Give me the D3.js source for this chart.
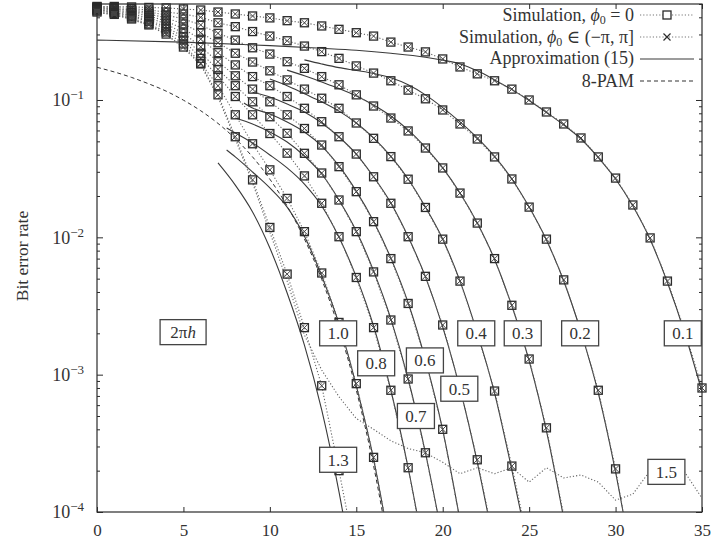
<!DOCTYPE html>
<html>
<head>
<meta charset="utf-8">
<script src="https://cdn.jsdelivr.net/npm/d3@7"></script>
<style>
body { margin: 0; background: #fff; }
text { font-family: "Liberation Serif", "DejaVu Serif", serif; fill: #333; }
</style>
</head>
<body>
<div id="app"></div>
<script>
const width = 712,
    height = 541;

// Eb/N0 grid of the simulations (dB)
const snr = d3.range(0, 36);

// simulated BER, one list per 2*pi*h, starting at 0 dB
const sim01 = [0.48, 0.48, 0.476, 0.472, 0.468, 0.46, 0.452, 0.437, 0.423, 0.409, 0.396, 0.378, 0.365, 0.346, 0.327, 0.309, 0.292, 0.264, 0.243, 0.224, 0.199, 0.174, 0.155, 0.138, 0.12, 0.1, 0.0818, 0.0669, 0.0529, 0.0385, 0.027, 0.0172, 0.0099, 0.0048, 0.0021, 0.0008];
const sim02 = [0.476, 0.472, 0.464, 0.452, 0.437, 0.423, 0.4, 0.365, 0.342, 0.315, 0.292, 0.27, 0.247, 0.225, 0.201, 0.177, 0.157, 0.138, 0.118, 0.102, 0.0846, 0.0669, 0.052, 0.0385, 0.0266, 0.0166, 0.0097, 0.0049, 0.0021, 0.00077, 0.000206, 0.000039];
const sim03 = [0.472, 0.464, 0.452, 0.437, 0.416, 0.389, 0.352, 0.306, 0.273, 0.24, 0.216, 0.19, 0.17, 0.148, 0.129, 0.109, 0.0904, 0.0739, 0.0595, 0.0447, 0.032, 0.021, 0.0127, 0.007, 0.0032, 0.0013, 0.00041, 0.000095];
const sim04 = [0.468, 0.46, 0.445, 0.423, 0.396, 0.358, 0.309, 0.261, 0.219, 0.189, 0.163, 0.14, 0.12, 0.103, 0.087, 0.068, 0.0526, 0.0387, 0.0265, 0.0165, 0.0097, 0.0048, 0.002, 0.00076, 0.000216, 0.000055];
const sim05 = [0.464, 0.452, 0.434, 0.409, 0.376, 0.329, 0.277, 0.221, 0.18, 0.148, 0.127, 0.106, 0.087, 0.0695, 0.054, 0.0404, 0.0276, 0.0177, 0.0101, 0.0052, 0.0023, 0.0008, 0.00024, 0.000058];
const sim06 = [0.46, 0.445, 0.423, 0.396, 0.358, 0.307, 0.244, 0.19, 0.15, 0.12, 0.097, 0.078, 0.062, 0.047, 0.0327, 0.0215, 0.013, 0.007, 0.0033, 0.00128, 0.0004, 0.000087];
const sim07 = [0.456, 0.437, 0.412, 0.383, 0.34, 0.288, 0.219, 0.167, 0.127, 0.097, 0.0755, 0.0572, 0.0409, 0.0294, 0.0187, 0.011, 0.0056, 0.0025, 0.00093, 0.00027, 0.000063];
const sim08 = [0.452, 0.434, 0.406, 0.373, 0.329, 0.273, 0.201, 0.15, 0.106, 0.078, 0.057, 0.041, 0.028, 0.0177, 0.0101, 0.0051, 0.0022, 0.00077, 0.00021, 0.000045];
const sim10 = [0.445, 0.427, 0.396, 0.358, 0.313, 0.256, 0.185, 0.127, 0.078, 0.048, 0.031, 0.0192, 0.011, 0.0055, 0.0024, 0.00086, 0.00025, 0.000053];
const sim13 = [0.437, 0.42, 0.389, 0.352, 0.302, 0.243, 0.183, 0.109, 0.054, 0.0262, 0.0118, 0.0054, 0.0022, 0.00083, 0.0002, 0.000045];
// 2*pi*h = 1.5 runs into an error floor
const sim15 = [0.434, 0.416, 0.386, 0.349, 0.3, 0.239, 0.18, 0.105, 0.052, 0.0249, 0.0109, 0.0048, 0.00194, 0.00108, 0.00069, 0.00048, 0.0004, 0.00033, 0.00029, 0.00027, 0.00023, 0.00019, 0.00021, 0.00019, 0.00021, 0.000165, 0.00021, 0.000177, 0.000186, 0.000165, 0.000122, 0.000135, 0.0002, 0.00023, 0.000195, 0.000126];

// approximation (15): [Eb/N0, BER]
const approx01 = [[0, 0.273], [5, 0.264], [10, 0.249], [13, 0.238], [15, 0.23], [17, 0.219], [19, 0.205], [20, 0.195], [21, 0.183], [22, 0.163], [23, 0.14], [24, 0.119], [25, 0.0992], [26, 0.0811], [27, 0.0658], [28, 0.052], [29, 0.0381], [30, 0.0266], [31, 0.0169], [32, 0.00964], [33, 0.00469], [34, 0.00201], [35, 0.000747]];
const approx02 = [[12, 0.196], [13, 0.183], [14, 0.172], [15, 0.164], [16, 0.156], [17, 0.145], [18, 0.129], [19, 0.109], [20, 0.088], [21, 0.0692], [22, 0.0529], [23, 0.0388], [24, 0.0266], [25, 0.0166], [26, 0.00956], [27, 0.00481], [28, 0.00204], [29, 0.000735], [30, 0.000195], [31, 0.00004]];
const approx03 = [[11, 0.165], [12, 0.15], [13, 0.135], [14, 0.121], [15, 0.107], [16, 0.092], [17, 0.0765], [18, 0.0605], [19, 0.0451], [20, 0.032], [21, 0.021], [22, 0.0127], [23, 0.0069], [24, 0.00316], [25, 0.00126], [26, 0.000389], [27, 0.00009]];
const approx04 = [[10, 0.142], [11, 0.127], [12, 0.111], [13, 0.097], [14, 0.083], [15, 0.068], [16, 0.0529], [17, 0.0388], [18, 0.0266], [19, 0.0166], [20, 0.0097], [21, 0.0048], [22, 0.00201], [23, 0.000735], [24, 0.000202], [25, 0.000051]];
const approx05 = [[9, 0.114], [10, 0.105], [11, 0.0935], [12, 0.0818], [13, 0.068], [14, 0.0538], [15, 0.0404], [16, 0.0276], [17, 0.0178], [18, 0.0101], [19, 0.00515], [20, 0.00222], [21, 0.00079], [22, 0.00023], [23, 0.000055]];
const approx06 = [[8.5, 0.0951], [9, 0.0874], [10, 0.0791], [11, 0.0692], [12, 0.0585], [13, 0.0462], [14, 0.0331], [15, 0.0217], [16, 0.0131], [17, 0.00706], [18, 0.00334], [19, 0.00128], [20, 0.000395], [21, 0.000087]];
const approx07 = [[8, 0.0739], [9, 0.0669], [10, 0.0585], [11, 0.0494], [12, 0.0391], [13, 0.0289], [14, 0.0187], [15, 0.0111], [16, 0.0057], [17, 0.00255], [18, 0.00093], [19, 0.00027], [20, 0.000063]];
const approx08 = [[7.5, 0.0625], [8, 0.0575], [9, 0.0486], [10, 0.0398], [11, 0.032], [12, 0.0244], [13, 0.0169], [14, 0.01], [15, 0.00515], [16, 0.00226], [17, 0.00077], [18, 0.00021], [19, 0.000045]];
const approx10 = [[7.5, 0.0432], [8, 0.0385], [9, 0.0299], [10, 0.0229], [11, 0.0166], [12, 0.0102], [13, 0.00523], [14, 0.00234], [15, 0.00083], [16, 0.000243], [17, 0.000051]];
const approx13 = [[7, 0.0348], [8, 0.024], [9, 0.0153], [10, 0.00836], [11, 0.00393], [12, 0.00164], [13, 0.000553], [14, 0.00014], [15, 0.000027]];

// 8-PAM reference, from 0 dB
const pam8 = [0.173, 0.16, 0.146, 0.131, 0.116, 0.0997, 0.0835, 0.0675, 0.0523, 0.0385, 0.0265, 0.0169, 0.00972, 0.00495, 0.00215, 0.000772, 0.000217, 0.000045];

// curve labels (2*pi*h)
const labelText = ["0.1", "0.2", "0.3", "0.4", "0.5", "0.6", "0.7", "0.8", "1.0", "1.3", "1.5"];
const labelSnr = [33.89, 27.95, 24.63, 21.94, 20.96, 18.97, 18.45, 16.15, 13.95, 13.95, 32.94];
const labelBer = [2.0e-3, 2.0e-3, 2.0e-3, 2.0e-3, 7.9e-4, 1.27e-3, 5.0e-4, 1.21e-3, 2.0e-3, 2.4e-4, 1.96e-4];

const xTicks = [0, 5, 10, 15, 20, 25, 30, 35];
const yTicks = [1e-4, 1e-3, 1e-2, 1e-1];
const yTickExp = ["−4", "−3", "−2", "−1"];

const simCurves = [sim01, sim02, sim03, sim04, sim05, sim06, sim07, sim08, sim10, sim13];
const approxCurves = [approx01, approx02, approx03, approx04, approx05, approx06, approx07, approx08, approx10, approx13];

var x = d3.scaleLinear().domain([0, 35]).range([97, 702]);
var y = d3.scaleLog().domain([1e-4, 0.5]).range([512, 4]);

const svg = d3.select("#app")
    .append("svg")
    .attr("width", width)
    .attr("height", height);

svg.append("defs").append("clipPath").attr("id", "plot")
    .append("rect")
    .attr("x", x(0)).attr("y", y(0.5))
    .attr("width", x(35) - x(0)).attr("height", y(1e-4) - y(0.5));

const ink = "#2b2b2b";

function styleAxis(g) {
    g.select(".domain").remove();
    g.selectAll("line").attr("stroke", ink).attr("stroke-width", 1);
}

// minor log ticks
const minor = [];
[1e-4, 1e-3, 1e-2, 1e-1].forEach(d => d3.range(2, 10).forEach(k => { if (d * k <= 0.5) minor.push(d * k); }));

//X-Axis bottom and top, ticks pointing inward
svg.append("g")
    .attr("transform", "translate(0," + y(1e-4) + ")")
    .call(d3.axisBottom(x).tickValues(xTicks).tickSize(-5).tickPadding(12))
    .call(styleAxis)
    .selectAll("text")
    .attr("font-family", "Liberation Serif")
    .attr("font-size", 17)
    .attr("fill", "#333");

svg.append("g")
    .attr("transform", "translate(0," + y(0.5) + ")")
    .call(d3.axisTop(x).tickValues(xTicks).tickSize(-5).tickFormat(""))
    .call(styleAxis);

//Y-Axis left and right
svg.append("g")
    .attr("transform", "translate(" + x(0) + ",0)")
    .call(d3.axisLeft(y).tickValues(yTicks).tickSize(-6).tickFormat(""))
    .call(styleAxis);

svg.append("g")
    .attr("transform", "translate(" + x(0) + ",0)")
    .call(d3.axisLeft(y).tickValues(minor).tickSize(-3).tickFormat(""))
    .call(styleAxis);

svg.append("g")
    .attr("transform", "translate(" + x(35) + ",0)")
    .call(d3.axisRight(y).tickValues(yTicks).tickSize(-6).tickFormat(""))
    .call(styleAxis);

svg.append("g")
    .attr("transform", "translate(" + x(35) + ",0)")
    .call(d3.axisRight(y).tickValues(minor).tickSize(-3).tickFormat(""))
    .call(styleAxis);

// y tick labels 10^n
yTicks.forEach((d, i) => {
    const t = svg.append("text")
        .attr("x", 84)
        .attr("y", y(d))
        .attr("dy", "0.36em")
        .attr("text-anchor", "end")
        .attr("font-size", 18);
    t.append("tspan").text("10");
    t.append("tspan").attr("font-size", 13).attr("dy", "-0.55em").text(yTickExp[i]);
});

// frame
svg.append("rect")
    .attr("x", x(0)).attr("y", y(0.5))
    .attr("width", x(35) - x(0)).attr("height", y(1e-4) - y(0.5))
    .attr("fill", "none").attr("stroke", ink).attr("stroke-width", 1.2);

svg.append("text")
    .attr("transform", "translate(22," + 256 + ") rotate(-90)")
    .attr("text-anchor", "middle")
    .attr("dy", "0.35em")
    .attr("font-size", 17.5)
    .text("Bit error rate");

const plot = svg.append("g").attr("clip-path", "url(#plot)");

const simLine = d3.line().x((d, i) => x(snr[i])).y(d => y(d));
const pairLine = d3.line().curve(d3.curveMonotoneX).x(d => x(d[0])).y(d => y(d[1]));

// 8-PAM
plot.append("path")
    .attr("d", d3.line().curve(d3.curveMonotoneX).x((d, i) => x(snr[i])).y(d => y(d))(pam8))
    .attr("fill", "none").attr("stroke", "#333").attr("stroke-width", 1)
    .attr("stroke-dasharray", "4,3");

// approximations
plot.selectAll("path.approx")
    .data(approxCurves).enter()
    .append("path")
    .attr("class", "approx")
    .attr("d", pairLine)
    .attr("fill", "none").attr("stroke", "#3a3a3a").attr("stroke-width", 1.1);

// simulation lines (dotted)
plot.selectAll("path.sim")
    .data(simCurves.concat([sim15])).enter()
    .append("path")
    .attr("class", "sim")
    .attr("d", simLine)
    .attr("fill", "none").attr("stroke", "#666").attr("stroke-width", 1.1)
    .attr("stroke-dasharray", "1.2,2");

// markers: square (phi0 = 0) and cross (random phi0)
const pts = [];
simCurves.forEach(c => c.forEach((d, i) => { if (d >= 1e-4) pts.push({x: snr[i], y: d}); }));

const mk = svg.append("g").selectAll("g.mk")
    .data(pts).enter()
    .append("g")
    .attr("transform", d => "translate(" + x(d.x) + "," + y(d.y) + ")");

mk.append("rect")
    .attr("x", -4).attr("y", -4).attr("width", 8).attr("height", 8)
    .attr("fill", "none").attr("stroke", ink).attr("stroke-width", 1.3);

mk.append("path")
    .attr("d", "M-3.5,-3.5L3.5,3.5M-3.5,3.5L3.5,-3.5")
    .attr("stroke", "#444").attr("stroke-width", 1);

// curve labels
function labelBox(cx, cy, w, fill) {
    const g = svg.append("g").attr("transform", "translate(" + cx + "," + cy + ")");
    g.append("rect")
        .attr("x", -w / 2).attr("y", -12.5).attr("width", w).attr("height", 25)
        .attr("fill", "#fff").attr("stroke", "#444").attr("stroke-width", 1.3);
    const t = g.append("text")
        .attr("text-anchor", "middle").attr("dy", "0.35em").attr("font-size", 17);
    fill(t);
}

labelText.forEach((s, i) => {
    labelBox(x(labelSnr[i]), y(labelBer[i]), 37, t => t.text(s));
});

labelBox(x(4.98), y(2.04e-3), 46, t => {
    t.append("tspan").text("2π");
    t.append("tspan").attr("font-style", "italic").text("h");
});

// legend
const legend = svg.append("g");
const rows = [
    {y: 15, kind: "sq"},
    {y: 37, kind: "x"},
    {y: 59, kind: "solid"},
    {y: 81, kind: "dash"}
];

rows.forEach(r => {
    const line = legend.append("line")
        .attr("x1", 640).attr("x2", 694).attr("y1", r.y).attr("y2", r.y)
        .attr("stroke-width", 1.1);
    if (r.kind == "sq" || r.kind == "x") line.attr("stroke", "#777").attr("stroke-dasharray", "1.2,2");
    if (r.kind == "solid") line.attr("stroke", "#3a3a3a");
    if (r.kind == "dash") line.attr("stroke", "#333").attr("stroke-dasharray", "4,3");
    if (r.kind == "sq") legend.append("rect").attr("x", 663).attr("y", r.y - 4).attr("width", 8).attr("height", 8)
        .attr("fill", "#fff").attr("stroke", ink).attr("stroke-width", 1.3);
    if (r.kind == "x") legend.append("path")
        .attr("d", "M663.5," + (r.y - 3.5) + "l7,7m0,-7l-7,7")
        .attr("stroke", ink).attr("stroke-width", 1.2);
});

function legendText(yy) {
    return legend.append("text").attr("x", 634).attr("y", yy)
        .attr("text-anchor", "end").attr("font-size", 18);
}

let t1 = legendText(21);
t1.append("tspan").text("Simulation, ");
t1.append("tspan").attr("font-style", "italic").text("ϕ");
t1.append("tspan").attr("font-size", 12).attr("dy", 3).text("0");
t1.append("tspan").attr("dy", -3).text(" = 0");

let t2 = legendText(43);
t2.append("tspan").text("Simulation, ");
t2.append("tspan").attr("font-style", "italic").text("ϕ");
t2.append("tspan").attr("font-size", 12).attr("dy", 3).text("0");
t2.append("tspan").attr("dy", -3).text(" ∈ (−π, π]");

legendText(64).text("Approximation (15)");
legendText(87).text("8-PAM");
</script>
</body>
</html>
